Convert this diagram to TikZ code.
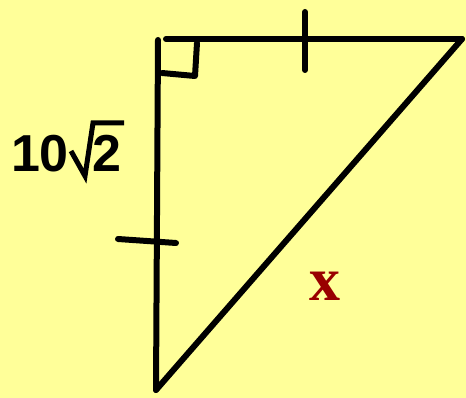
\documentclass[tikz,border=0pt]{standalone}
\usepackage{fontspec}
\setmainfont{Liberation Sans}
\newfontfamily\serifbold{Liberation Serif}
\definecolor{bgyellow}{HTML}{FFFF99}
\definecolor{xred}{HTML}{990000}
\begin{document}
\begin{tikzpicture}[x=1pt,y=-1pt,
  edge/.style={line width=6pt,line cap=round,line join=round,black},
  lbl/.style={inner sep=0pt,anchor=base}]
\fill[bgyellow] (0,0) rectangle (466,398);
\useasboundingbox (0,0) rectangle (466,398);
% vertices
\coordinate (A) at (158,40);
\coordinate (A2) at (166,39);
\coordinate (B) at (462,39);
\coordinate (C) at (156,390);
% sides
\draw[edge] (A) -- (C);
\draw[edge] (A2) -- (B);
\draw[edge] (B) -- (C);
% right angle mark
\coordinate (R1) at (162,73);
\coordinate (R2) at (195,76);
\coordinate (R3) at (197,43);
\draw[edge] (R1) -- (R2) -- (R3);
% tick marks
\coordinate (T1) at (305,12);
\coordinate (T2) at (305,70);
\draw[edge] (T1) -- (T2);
\coordinate (L1) at (118,239);
\coordinate (L2) at (176,243);
\draw[edge] (L1) -- (L2);
% label 10 sqrt 2
\node[lbl,font=\fontsize{52}{52}\selectfont\bfseries] (ten) at (40,172) {10};
\node[lbl,font=\fontsize{52}{52}\selectfont\bfseries] (two) at (107,172) {2};
\coordinate (S1) at (71,151);
\coordinate (S2) at (85,176);
\coordinate (S3) at (93,123);
\coordinate (S4) at (124,123);
\draw[line width=5pt,line join=miter,line cap=butt] (S1) -- (S2) -- (S3) -- (S4);
% x label
\node[lbl,text=xred,font=\fontsize{62}{62}\serifbold\bfseries] (x) at (325,300) {x};
\end{tikzpicture}
\end{document}
